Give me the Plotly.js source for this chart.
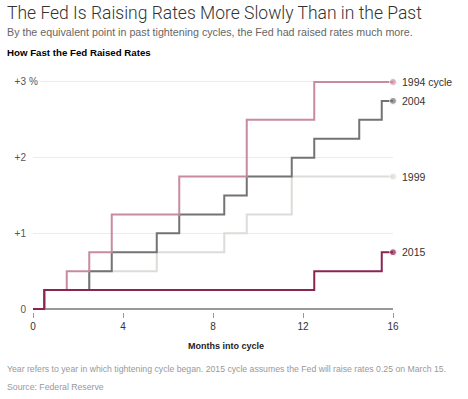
<!DOCTYPE html>
<html><head><meta charset="utf-8">
<script src="https://cdn.plot.ly/plotly-3.0.1.min.js"></script>
<style>html,body{margin:0;padding:0;background:#fff;}</style>
</head><body><div id="chart" style="width:468px;height:399px;"></div>
<script>
// Data
const x1994 = [0, 0.5, 1.5, 2.5, 3.5, 6.5, 9.5, 12.5, 16];
const y1994 = [0, 0.25, 0.5, 0.75, 1.25, 1.75, 2.5, 3.0, 3.0];
const x2004 = [0, 0.5, 2.5, 3.5, 5.5, 6.5, 8.5, 9.5, 11.5, 12.5, 14.5, 15.5, 16];
const y2004 = [0, 0.25, 0.5, 0.75, 1.0, 1.25, 1.5, 1.75, 2.0, 2.25, 2.5, 2.75, 2.75];
const x1999 = [0, 0.5, 2.5, 5.5, 8.5, 9.5, 11.5, 16];
const y1999 = [0, 0.25, 0.5, 0.75, 1.0, 1.25, 1.75, 1.75];
const x2015 = [0, 0.5, 12.5, 15.5, 16];
const y2015 = [0, 0.25, 0.5, 0.75, 0.75];
const seriesNames = ["1999", "2004", "1994 cycle", "2015"];
const xTickVals = [0, 4, 8, 12, 16];
const xTickText = ["0", "4", "8", "12", "16"];
const yTickVals = [0, 1, 2, 3];
const yTickText = ["0", "+1", "+2", "+3"];

const series = [
  {x: x1999, y: y1999, name: seriesNames[0], color: "#dcdcd8"},
  {x: x2004, y: y2004, name: seriesNames[1], color: "#737373"},
  {x: x1994, y: y1994, name: seriesNames[2], color: "#c98aa1"},
  {x: x2015, y: y2015, name: seriesNames[3], color: "#8c2452"}
];

const traces = series.map(s => ({
  type: "scatter", mode: "lines+markers", x: s.x, y: s.y, name: s.name,
  line: {shape: "hv", color: s.color, width: 2},
  marker: {color: s.color, size: s.x.map((v, i) => i === s.x.length - 1 ? 7 : 0)},
  hoverinfo: "skip", cliponaxis: false
}));

const font = "'Liberation Sans', Arial, sans-serif";
const annotations = series.map(s => ({
  x: s.x[s.x.length - 1], y: s.y[s.y.length - 1], xref: "x", yref: "y",
  text: s.name, showarrow: false, xanchor: "left", yanchor: "middle", xshift: 7,
  font: {family: font, size: 10.5, color: "#333"}
}));
annotations.push(
  {xref: "paper", yref: "y", x: 0, y: 3, xanchor: "left", yanchor: "middle", xshift: -6,
   text: "%", showarrow: false, bgcolor: "#fff", font: {family: font, size: 10, color: "#555"}},
  {xref: "paper", yref: "paper", x: 0.537, y: -0.143, xanchor: "center", yanchor: "middle",
   text: "<b>Months into cycle</b>", showarrow: false, font: {family: font, size: 9, color: "#222"}},
  {xref: "paper", yref: "paper", x: -0.078, y: 1.256, xanchor: "left", yanchor: "middle",
   text: "The Fed Is Raising Rates More Slowly Than in the Past", showarrow: false,
   font: {family: "Roboto, sans-serif", size: 17.5, color: "#333", weight: 300}},
  {xref: "paper", yref: "paper", x: -0.078, y: 1.176, xanchor: "left", yanchor: "middle",
   text: "By the equivalent point in past tightening cycles, the Fed had raised rates much more.", showarrow: false,
   font: {family: font, size: 10.7, color: "#666"}},
  {xref: "paper", yref: "paper", x: -0.078, y: 1.092, xanchor: "left", yanchor: "middle",
   text: "<b>How Fast the Fed Raised Rates</b>", showarrow: false,
   font: {family: font, size: 9.7, color: "#000"}},
  {xref: "paper", yref: "paper", x: -0.078, y: -0.239, xanchor: "left", yanchor: "middle",
   text: "Year refers to year in which tightening cycle began. 2015 cycle assumes the Fed will raise rates 0.25 on March 15.", showarrow: false,
   font: {family: font, size: 8.7, color: "#999"}},
  {xref: "paper", yref: "paper", x: -0.078, y: -0.315, xanchor: "left", yanchor: "middle",
   text: "Source: Federal Reserve", showarrow: false,
   font: {family: font, size: 8.7, color: "#999"}}
);

const layout = {
  width: 468, height: 399,
  margin: {l: 33, r: 75, t: 74, b: 87},
  paper_bgcolor: "#fff", plot_bgcolor: "#fff",
  showlegend: false,
  xaxis: {range: [0, 16], tickvals: xTickVals, ticktext: xTickText, showgrid: false, zeroline: false,
          showline: false, ticks: "outside", ticklen: 5, tickcolor: "#999", tickwidth: 1,
          tickfont: {family: font, size: 10, color: "#333"}, fixedrange: true},
  yaxis: {range: [-0.0396, 3.1056], tickvals: yTickVals, ticktext: yTickText, showgrid: true,
          gridcolor: "#ececec", gridwidth: 1, zeroline: true, zerolinecolor: "#999", zerolinewidth: 1.5,
          ticks: "", ticklabelstandoff: 6, tickfont: {family: font, size: 10, color: "#555"}, fixedrange: true},
  annotations: annotations,
  font: {family: font}
};

Plotly.newPlot("chart", traces, layout, {displayModeBar: false, staticPlot: true});
</script></body></html>
